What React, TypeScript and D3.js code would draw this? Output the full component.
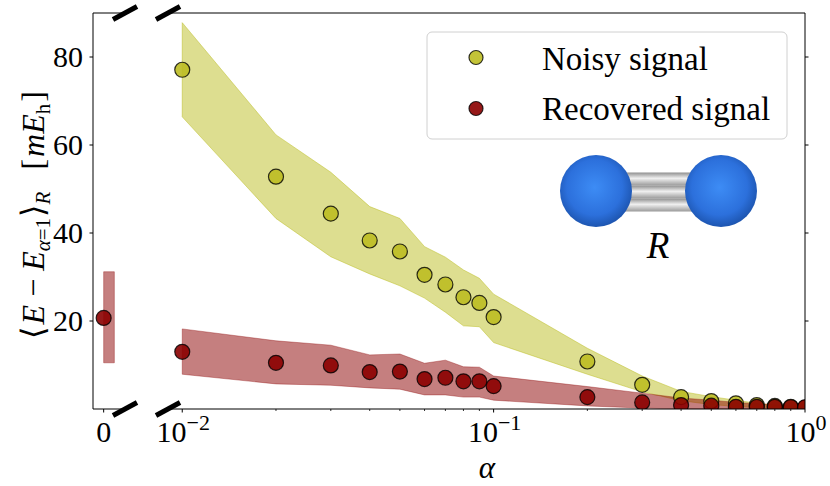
import React from 'react';
import * as d3 from 'd3';

// alpha values of the log panel
const alphas = [0.01, 0.02, 0.03, 0.04, 0.05, 0.06, 0.07, 0.08, 0.09, 0.1, 0.2, 0.3, 0.4, 0.5, 0.6, 0.7, 0.8, 0.9, 1.0];

// noisy signal (mean and band)
const noisyMean = [77.1, 52.8, 44.4, 38.3, 35.8, 30.5, 28.3, 25.4, 24.1, 20.9, 10.8, 5.5, 2.7, 1.8, 1.3, 0.9, 0.7, 0.5, 0.3];
const noisyUpper = [87.8, 62.3, 53.8, 46.0, 43.3, 36.9, 34.5, 31.6, 29.7, 26.1, 13.8, 7.5, 4.0, 2.8, 2.0, 1.3, 0.9, 0.6, 0.4];
const noisyLower = [66.4, 43.3, 34.6, 30.7, 28.0, 25.2, 22.0, 18.9, 18.7, 15.1, 7.9, 3.9, 1.9, 1.0, 0.6, 0.3, 0.2, 0.1, 0.1];

// recovered signal (mean and band)
const recoveredMean = [13.0, 10.5, 9.9, 8.4, 8.5, 6.8, 7.1, 6.3, 6.3, 5.2, 2.7, 1.5, 0.9, 0.75, 0.5, 0.5, 0.5, 0.4, 0.4];
const recoveredUpper = [18.2, 15.5, 14.5, 12.3, 12.5, 10.4, 11.1, 9.6, 9.5, 7.5, 5.1, 3.6, 2.5, 2.0, 1.5, 1.2, 1.0, 0.8, 0.5];
const recoveredLower = [7.9, 5.7, 5.4, 4.8, 4.5, 3.2, 3.2, 2.7, 2.7, 2.0, 0.7, 0.2, 0, 0, 0, 0, 0, 0, 0];

// alpha = 0 panel
const zeroX = [0];
const zeroMean = [20.7];
const zeroBandX = [0, 1];
const zeroUpper = [31.2, 31.2];
const zeroLower = [10.5, 10.5];

const yTicks = [20, 40, 60, 80];
const xMajorTicks = [0.01, 0.1, 1];
const xMajorExp = ['\u22122', '\u22121', '0'];
const legendLabels = ['Noisy signal', 'Recovered signal'];

const W = 830;
const H = 486;
const TOP = 13;
const BOTTOM = 409;
const L0 = 93;
const L1 = 125;
const R0 = 168;
const R1 = 805;

const OLIVE = '#bcbd22';
const DARKRED = '#8b0000';
const FONT = "'Liberation Serif', 'DejaVu Serif', serif";

const App: React.FC = () => {
  const y = d3.scaleLinear().domain([0, 90]).range([BOTTOM, TOP]);
  const xLog = d3.scaleLog().domain([0.009, 1]).range([R0, R1]);
  const xLin = d3.scaleLinear().domain([-1, 2]).range([L0, L1]);

  const idx = alphas.map((_, i) => i);
  const band = (upper: number[], lower: number[]) =>
    d3.area<number>()
      .x((i) => xLog(alphas[i]))
      .y0((i) => y(lower[i]))
      .y1((i) => y(upper[i]))(idx) || '';
  const zeroBand = d3.area<number>()
    .x((i) => xLin(zeroBandX[i]))
    .y0((i) => y(zeroLower[i]))
    .y1((i) => y(zeroUpper[i]))([0, 1]) || '';

  const minor: number[] = [];
  [0.01, 0.1].forEach((k) => d3.range(2, 10).forEach((m) => minor.push(k * m)));

  const markerR = 7.5;
  const brk = (cx: number, cy: number, key: string) => (
    <line key={key} x1={cx - 12} y1={cy + 6.5} x2={cx + 12} y2={cy - 6.5} stroke="#000" strokeWidth={5} />
  );

  return (
    <svg width={W} height={H} style={{ position: 'absolute', left: 0, top: 0 }} fontFamily={FONT}>
      <defs>
        <clipPath id="clipR"><rect x={R0} y={TOP} width={R1 - R0} height={BOTTOM - TOP} /></clipPath>
        <clipPath id="clipL"><rect x={L0} y={TOP} width={L1 - L0} height={BOTTOM - TOP} /></clipPath>
        <radialGradient id="atom" cx="0.48" cy="0.45" r="0.55">
          <stop offset="0" stopColor="#3d8cf5" />
          <stop offset="0.7" stopColor="#2c70dc" />
          <stop offset="1" stopColor="#1d55b0" />
        </radialGradient>
        <linearGradient id="bond" x1="0" y1="0" x2="0" y2="1">
          <stop offset="0" stopColor="#8f8f8f" />
          <stop offset="0.45" stopColor="#f0f0f0" />
          <stop offset="1" stopColor="#9a9a9a" />
        </linearGradient>
      </defs>
      <rect width={W} height={H} fill="#fff" />

      {/* right (log) panel */}
      <g clipPath="url(#clipR)">
        <path d={band(noisyUpper, noisyLower)} fill={OLIVE} fillOpacity={0.5} stroke={OLIVE} strokeOpacity={0.5} strokeWidth={1} />
        <path d={band(recoveredUpper, recoveredLower)} fill={DARKRED} fillOpacity={0.5} stroke={DARKRED} strokeOpacity={0.35} strokeWidth={1} />
        {alphas.map((a, i) => (
          <circle key={'n' + i} cx={xLog(a)} cy={y(noisyMean[i])} r={markerR} fill={OLIVE} fillOpacity={0.9} stroke="#000" strokeOpacity={0.8} strokeWidth={1.2} />
        ))}
        {alphas.map((a, i) => (
          <circle key={'r' + i} cx={xLog(a)} cy={y(recoveredMean[i])} r={markerR} fill={DARKRED} fillOpacity={0.9} stroke="#000" strokeOpacity={0.8} strokeWidth={1.2} />
        ))}
      </g>

      {/* left (alpha = 0) panel */}
      <g clipPath="url(#clipL)">
        <path d={zeroBand} fill={DARKRED} fillOpacity={0.5} stroke={DARKRED} strokeOpacity={0.35} strokeWidth={1} />
        {zeroX.map((v, i) => (
          <circle key={'z' + i} cx={xLin(v)} cy={y(zeroMean[i])} r={markerR} fill={DARKRED} fillOpacity={0.9} stroke="#000" strokeOpacity={0.8} strokeWidth={1.2} />
        ))}
      </g>

      {/* spines */}
      <g stroke="#000" strokeWidth={1} fill="none">
        <line x1={L0} y1={TOP} x2={L0} y2={BOTTOM} />
        <line x1={L0} y1={TOP} x2={L1} y2={TOP} />
        <line x1={L0} y1={BOTTOM} x2={L1} y2={BOTTOM} />
        <line x1={R0} y1={TOP} x2={R1} y2={TOP} />
        <line x1={R0} y1={BOTTOM} x2={R1} y2={BOTTOM} />
        <line x1={R1} y1={TOP} x2={R1} y2={BOTTOM} />
        {yTicks.map((t) => (
          <g key={'yt' + t}>
            <line x1={L0 - 3.5} x2={L0} y1={y(t)} y2={y(t)} />
            <line x1={R1} x2={R1 + 3.5} y1={y(t)} y2={y(t)} />
          </g>
        ))}
        {xMajorTicks.map((t) => (
          <line key={'xt' + t} x1={xLog(t)} x2={xLog(t)} y1={BOTTOM} y2={BOTTOM + 3.5} />
        ))}
        {minor.map((t) => (
          <line key={'xm' + t} x1={xLog(t)} x2={xLog(t)} y1={BOTTOM} y2={BOTTOM + 2} strokeWidth={0.8} />
        ))}
        <line x1={xLin(0)} x2={xLin(0)} y1={BOTTOM} y2={BOTTOM + 3.5} />
      </g>

      {/* break marks */}
      {brk(L1, TOP, 'b1')}
      {brk(R0, TOP, 'b2')}
      {brk(L1, BOTTOM, 'b3')}
      {brk(R0, BOTTOM, 'b4')}

      {/* tick labels */}
      {yTicks.map((t) => (
        <text key={'yl' + t} x={L0 - 10} y={y(t)} dy="0.34em" textAnchor="end" fontSize={30}>{t}</text>
      ))}
      <text x={xLin(0)} y={441.5} textAnchor="middle" fontSize={30}>0</text>
      {xMajorTicks.map((t, i) => (
        <text key={'xl' + t} x={xLog(t) + 1} y={441.5} textAnchor="middle" fontSize={30}>
          10<tspan fontSize={22} dy={-12}>{xMajorExp[i]}</tspan>
        </text>
      ))}

      {/* axis labels */}
      <text x={487} y={478} textAnchor="middle" fontSize={31} fontStyle="italic">α</text>
      <text transform="translate(44,215) rotate(-90)" textAnchor="middle" fontSize={32}>
        <tspan>⟨</tspan>
        <tspan dx={2} fontStyle="italic">E</tspan>
        <tspan dx={8}>−</tspan>
        <tspan dx={8} fontStyle="italic">E</tspan>
        <tspan fontSize={21} dy={6} fontStyle="italic">α</tspan>
        <tspan fontSize={21}>=1</tspan>
        <tspan dy={-6} dx={1}>⟩</tspan>
        <tspan fontSize={21} dy={6} fontStyle="italic">R</tspan>
        <tspan dy={-6} dx={22}>[</tspan>
        <tspan dx={2} fontStyle="italic">mE</tspan>
        <tspan fontSize={21} dy={6}>h</tspan>
        <tspan dy={-6} dx={2}>]</tspan>
      </text>

      {/* legend */}
      <rect x={427} y={32} width={360} height={107} rx={5} fill="#fff" fillOpacity={0.8} stroke="#d0d0d0" strokeWidth={1} />
      {legendLabels.map((lab, i) => (
        <g key={lab}>
          <circle cx={476} cy={57.5 + i * 51} r={7} fill={i === 0 ? OLIVE : DARKRED} fillOpacity={0.9} stroke="#000" strokeOpacity={0.8} strokeWidth={1.2} />
          <text x={542} y={69.5 + i * 50} fontSize={33}>{lab}</text>
        </g>
      ))}

      {/* molecule inset */}
      <g>
        {[179, 192, 205].map((cy) => (
          <rect key={'bd' + cy} x={612} y={cy - 6.5} width={92} height={13} fill="url(#bond)" />
        ))}
        <circle cx={596} cy={191} r={36} fill="url(#atom)" />
        <circle cx={721} cy={191} r={36} fill="url(#atom)" />
        <text x={658} y={258} textAnchor="middle" fontSize={37} fontStyle="italic">R</text>
      </g>
    </svg>
  );
};

export default App;
